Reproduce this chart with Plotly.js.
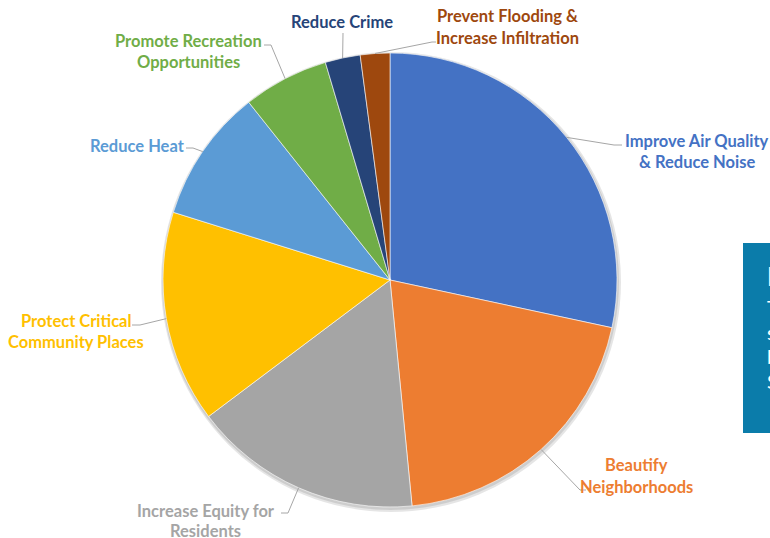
<!DOCTYPE html>
<html><head><meta charset="utf-8">
<script src="https://cdn.plot.ly/plotly-3.0.1.min.js"></script>
<style>html,body{margin:0;padding:0;background:#fff;}#chart{width:770px;height:538px;}</style>
</head><body><div id="chart"></div>
<script>
// ---- data ----
const categories = ["Improve Air Quality & Reduce Noise","Beautify Neighborhoods","Increase Equity for Residents","Protect Critical Community Places","Reduce Heat","Promote Recreation Opportunities","Reduce Crime","Prevent Flooding & Increase Infiltration"];
const values = [28.4, 20.1, 16.3, 15.1, 9.5, 6.1, 2.5, 2.1];
const labelLines = [["Improve Air Quality","& Reduce Noise"],["Beautify","Neighborhoods"],["Increase Equity for","Residents"],["Protect Critical","Community Places"],["Reduce Heat"],["Promote Recreation","Opportunities"],["Reduce Crime"],["Prevent Flooding &","Increase Infiltration"]];
const colors = ["#4472C4","#ED7D31","#A5A5A5","#FFC000","#5B9BD5","#70AD47","#264478","#9E480E"];

// ---- layout (pixels) ----
const W = 770, H = 538;
const CX = 390, CY = 280, R = 227;
const px = x => x / W, py = y => 1 - y / H;
const labelPos = [
  {cx: 697, ys: [141,162], pts: [[614,145],[622,145]]},
  {cx: 636, ys: [465,487], pts: [[580,490],[586,490]]},
  {cx: 206, ys: [511,531], pts: [[288,513],[281,513]]},
  {cx: 76,  ys: [321,342], pts: [[140,325],[132,325]]},
  {cx: 137, ys: [146],     pts: [[193,148],[186,148]]},
  {cx: 188, ys: [41,62],   pts: [[271,45],[264,45]]},
  {cx: 342, ys: [22],      pts: [[343,33]]},
  {cx: 507, ys: [16,38],   pts: [[432,42],[436,42]]}
];

const FONT = "Lato, 'Open Sans', sans-serif";
const total = values.reduce((a,b)=>a+b,0);
const annotations = [], shapes = [];
// soft shadow behind the pie
shapes.push({type:'circle', xref:'paper', yref:'paper', layer:'below', x0:px(CX-R-2), x1:px(CX+R+4), y0:py(CY+R+5), y1:py(CY-R-1), fillcolor:'rgba(0,0,0,0.10)', line:{width:0}});
shapes.push({type:'circle', xref:'paper', yref:'paper', layer:'below', x0:px(CX-R-1), x1:px(CX+R+2), y0:py(CY+R+3), y1:py(CY-R), fillcolor:'rgba(0,0,0,0.10)', line:{width:0}});
let cum = 0;
values.forEach((v,i) => {
  const mid = (cum + v/2) / total * 2 * Math.PI; cum += v;
  const sx = CX + R * Math.sin(mid), sy = CY - R * Math.cos(mid);
  let path = `M ${px(sx)} ${py(sy)}`;
  labelPos[i].pts.forEach(p => { path += ` L ${px(p[0])} ${py(p[1])}`; });
  shapes.push({type:'path', xref:'paper', yref:'paper', path, line:{color:'#A6A6A6', width:1}});
  labelLines[i].forEach((t,j) => {
    annotations.push({text:t, x:px(labelPos[i].cx), y:py(labelPos[i].ys[j]), xref:'paper', yref:'paper',
      xanchor:'center', yanchor:'middle', showarrow:false, font:{family:FONT, size:16.5, weight:700, color:colors[i]}});
  });
});

// side info box (partially outside the page)
shapes.push({type:'rect', xref:'paper', yref:'paper', x0:px(743), x1:px(800), y0:py(433), y1:py(243), fillcolor:'#0B7CAA', line:{width:0}, layer:'above'});
const boxLines = [["Key Findings",276,26,700],["The most",307,20,400],["selected",332,20,400],["benefits were",356,20,400],["Street trees",381,20,400]];
boxLines.forEach(b => annotations.push({text:b[0], x:px(765), y:py(b[1]), xref:'paper', yref:'paper', xanchor:'left', yanchor:'middle', showarrow:false, font:{family:FONT, size:b[2], weight:b[3], color:'#FFFFFF'}}));

const trace = {
  type:'pie', labels:categories, values:values, sort:false, direction:'clockwise', rotation:0,
  marker:{colors:colors, line:{color:'#FFFFFF', width:0.6}},
  textinfo:'none', hoverinfo:'label+percent', showlegend:false,
  domain:{x:[px(CX-R), px(CX+R)], y:[py(CY+R), py(CY-R)]}
};
const layout = {width:W, height:H, margin:{l:0,r:0,t:0,b:0}, paper_bgcolor:'#FFFFFF', showlegend:false, annotations, shapes};
Plotly.newPlot('chart', [trace], layout, {displayModeBar:false, staticPlot:true});
</script></body></html>
